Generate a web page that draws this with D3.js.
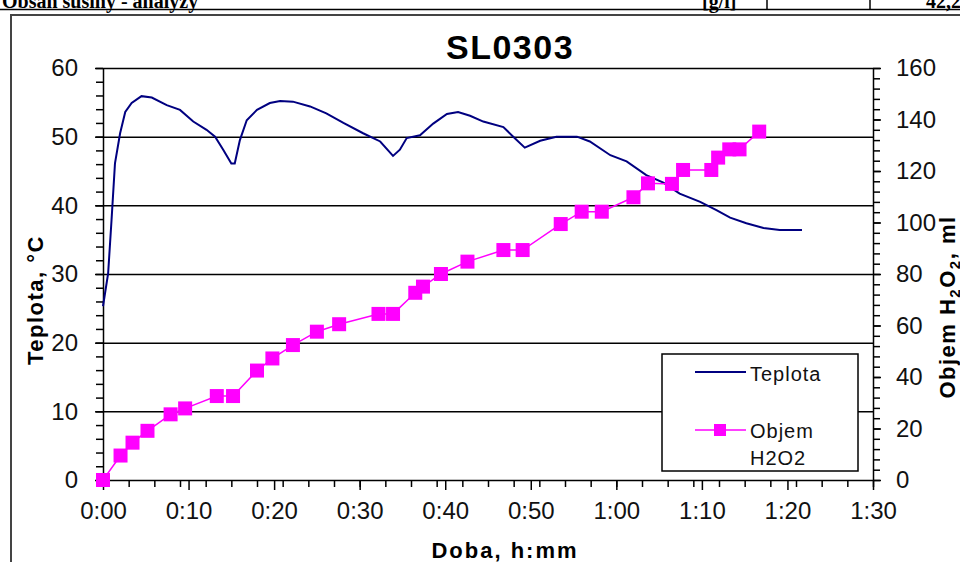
<!DOCTYPE html>
<html>
<head>
<meta charset="utf-8">
<script src="https://cdn.jsdelivr.net/npm/d3@7"></script>
<style>
  body { margin: 0; background: #fff; }
  svg { display: block; font-family: "Liberation Sans", Arial, sans-serif; }
</style>
</head>
<body>
<div id="chart"></div>
<script>
// time in minutes since start
const tempTime = [0, 0.6, 1.0, 1.4, 2.0, 2.6, 3.35, 4.5, 5.7, 7.45, 9.0, 10.55, 12.1, 13.1, 14.05, 15.0, 15.4, 16.0, 16.8, 18.0, 19.5, 20.7, 22.2, 24.2, 26.1, 28.1, 30.4, 32.4, 33.9, 34.7, 35.5, 37.05, 38.6, 40.2, 41.5, 42.9, 44.45, 46.8, 47.95, 49.3, 51.1, 53.0, 55.4, 56.9, 59.3, 61.2, 63.5, 65.5, 67.4, 69.8, 71.7, 73.3, 75.2, 77.2, 79.1, 81.7];
const tempValues = [25.3, 30.1, 37.9, 46.1, 50.5, 53.6, 54.9, 55.9, 55.7, 54.6, 53.9, 52.2, 51.0, 50.0, 48.1, 46.1, 46.1, 49.5, 52.4, 53.9, 54.9, 55.2, 55.1, 54.4, 53.4, 52.0, 50.5, 49.3, 47.2, 48.1, 49.8, 50.2, 51.9, 53.3, 53.6, 53.05, 52.2, 51.4, 50.0, 48.4, 49.4, 50.0, 50.0, 49.3, 47.3, 46.4, 44.4, 43.3, 41.7, 40.5, 39.3, 38.2, 37.4, 36.7, 36.4, 36.4];

const volTime = [0, 2.05, 3.45, 5.2, 7.9, 9.6, 13.3, 15.2, 18.0, 19.8, 22.2, 25.0, 27.6, 32.2, 33.9, 36.5, 37.4, 39.5, 42.6, 46.8, 49.05, 53.5, 55.95, 58.3, 62.0, 63.7, 66.5, 67.8, 71.1, 71.9, 73.2, 74.4, 76.7];
const volValues = [0, 9.5, 14.5, 19.1, 25.5, 27.8, 32.6, 32.6, 42.5, 47.2, 52.4, 57.6, 60.5, 64.5, 64.5, 72.7, 75.1, 80, 84.8, 89.3, 89.3, 99.4, 104.2, 104.2, 109.8, 115.2, 115.0, 120.4, 120.4, 125.2, 128.4, 128.4, 135.3];

const tempTicks = [0, 10, 20, 30, 40, 50, 60];
const volTicks = [0, 20, 40, 60, 80, 100, 120, 140, 160];
const timeTicks = [0, 10, 20, 30, 40, 50, 60, 70, 80, 90];

const chartTitle = 'SL0303';
const legendLabels = ['Teplota', 'Objem', 'H2O2'];

const W = 960, H = 562;
const margin = { left: 103, top: 68, right: W - 873, bottom: H - 480 };
const width = W - margin.left - margin.right;
const height = H - margin.top - margin.bottom;

const fmtTime = m => `${Math.floor(m / 60)}:${String(m % 60).padStart(2, '0')}`;

const svg = d3.select('#chart').append('svg')
    .attr('width', W)
    .attr('height', H);

// surrounding document: table row cut at top, frame of the chart object
const docText = (xv, txt) => svg.append('text')
    .attr('x', xv).attr('y', 8)
    .attr('font-family', '"Liberation Serif", serif')
    .attr('font-weight', 'bold')
    .attr('font-size', 20)
    .text(txt);
docText(2, 'Obsah sušiny - analýzy');
docText(702, '[g/l]');
docText(926, '42,2');
svg.append('line').attr('x1', 0).attr('x2', W).attr('y1', 9.5).attr('y2', 9.5)
    .attr('stroke', '#000').attr('stroke-width', 1.5);
[767, 870].forEach(xv => {
    svg.append('line').attr('x1', xv).attr('x2', xv).attr('y1', 0).attr('y2', 9)
        .attr('stroke', '#000').attr('stroke-width', 1.5);
});
svg.append('path')
    .attr('d', `M11,${H}V15H${W}`)
    .attr('fill', 'none')
    .attr('stroke', '#444')
    .attr('stroke-width', 2);

const g = svg.append('g')
    .attr('transform', `translate(${margin.left},${margin.top})`);

const x = d3.scaleLinear().domain([0, 90]).range([0, width]);
const yT = d3.scaleLinear().domain([0, 60]).range([height, 0]);
const yV = d3.scaleLinear().domain([0, 160]).range([height, 0]);

// Grid lines
g.append('g')
    .call(d3.axisLeft(yT).tickValues(tempTicks.slice(1)).tickSize(-width).tickFormat(''))
    .call(s => s.select('.domain').remove())
    .selectAll('line')
    .attr('stroke', '#000')
    .attr('stroke-width', 1.5);

// Minor ticks
g.append('g')
    .call(d3.axisLeft(yT).tickValues(d3.range(0, 61, 2)).tickSize(7).tickFormat(''))
    .call(s => s.select('.domain').remove())
    .selectAll('line').attr('stroke-width', 1.5);
g.append('g')
    .attr('transform', `translate(${width},0)`)
    .call(d3.axisRight(yV).tickValues(d3.range(0, 161, 4)).tickSize(7).tickFormat(''))
    .call(s => s.select('.domain').remove())
    .selectAll('line').attr('stroke-width', 1.5);
g.append('g')
    .attr('transform', `translate(0,${height})`)
    .call(d3.axisBottom(x).tickValues(d3.range(0, 91, 3)).tickSize(7).tickFormat(''))
    .call(s => s.select('.domain').remove())
    .selectAll('line').attr('stroke-width', 1.5);

// Major axes
const styleAxis = s => {
    s.select('.domain').attr('stroke-width', 1.5);
    s.selectAll('line').attr('stroke-width', 1.5);
    s.selectAll('text')
        .attr('font-family', '"Liberation Sans", Arial, sans-serif')
        .attr('font-size', 24)
        .attr('fill', '#111');
};

g.append('g')
    .call(d3.axisLeft(yT).tickValues(tempTicks).tickSize(8).tickPadding(17).tickSizeOuter(0))
    .call(styleAxis);

g.append('g')
    .attr('transform', `translate(${width},0)`)
    .call(d3.axisRight(yV).tickValues(volTicks).tickSize(8).tickPadding(15).tickSizeOuter(0))
    .call(styleAxis);

g.append('g')
    .attr('transform', `translate(0,${height})`)
    .call(d3.axisBottom(x).tickValues(timeTicks).tickSize(10).tickPadding(12).tickSizeOuter(0).tickFormat(fmtTime))
    .call(styleAxis);

// Temperature line
const tempData = tempTime.map((t, i) => ({ t, v: tempValues[i] }));
g.append('path')
    .datum(tempData)
    .attr('fill', 'none')
    .attr('stroke', '#000080')
    .attr('stroke-width', 2)
    .attr('d', d3.line().x(d => x(d.t)).y(d => yT(d.v)));

// Volume line + markers
const volData = volTime.map((t, i) => ({ t, v: volValues[i] }));
g.append('path')
    .datum(volData)
    .attr('fill', 'none')
    .attr('stroke', '#ff00ff')
    .attr('stroke-width', 1.5)
    .attr('d', d3.line().x(d => x(d.t)).y(d => yV(d.v)));

const ms = 14;
g.selectAll('.marker')
    .data(volData)
    .join('rect')
    .attr('class', 'marker')
    .attr('x', d => x(d.t) - ms / 2)
    .attr('y', d => yV(d.v) - ms / 2)
    .attr('width', ms)
    .attr('height', ms)
    .attr('fill', '#ff00ff');

// Titles
svg.append('text')
    .attr('x', 510).attr('y', 59)
    .attr('text-anchor', 'middle')
    .attr('font-family', '"Liberation Sans", Arial, sans-serif')
    .attr('font-weight', 'bold')
    .attr('font-size', 34)
    .attr('letter-spacing', 1.5)
    .text(chartTitle);

svg.append('text')
    .attr('x', 505).attr('y', 558)
    .attr('text-anchor', 'middle')
    .attr('font-weight', 'bold')
    .attr('font-size', 22)
    .attr('letter-spacing', 2)
    .text('Doba, h:mm');

svg.append('text')
    .attr('transform', 'translate(43,300) rotate(-90)')
    .attr('text-anchor', 'middle')
    .attr('font-weight', 'bold')
    .attr('font-size', 22)
    .attr('letter-spacing', 1.5)
    .text('Teplota, °C');

const rt = svg.append('text')
    .attr('transform', 'translate(955,307) rotate(-90)')
    .attr('text-anchor', 'middle')
    .attr('font-weight', 'bold')
    .attr('font-size', 22)
    .attr('letter-spacing', 1.5);
rt.append('tspan').text('Objem H');
rt.append('tspan').attr('font-size', 15).attr('dy', 5).text('2');
rt.append('tspan').attr('dy', -5).text('O');
rt.append('tspan').attr('font-size', 15).attr('dy', 5).text('2');
rt.append('tspan').attr('dy', -5).text(', ml');

// Legend
const legend = svg.append('g').attr('transform', 'translate(662,354)');
legend.append('rect')
    .attr('width', 196).attr('height', 117)
    .attr('fill', '#fff')
    .attr('stroke', '#000')
    .attr('stroke-width', 1.5);
legend.append('line')
    .attr('x1', 33).attr('x2', 84).attr('y1', 18).attr('y2', 18)
    .attr('stroke', '#000080').attr('stroke-width', 2);
legend.append('line')
    .attr('x1', 33).attr('x2', 84).attr('y1', 76).attr('y2', 76)
    .attr('stroke', '#ff00ff').attr('stroke-width', 1.5);
legend.append('rect')
    .attr('x', 52).attr('y', 70)
    .attr('width', 12).attr('height', 12)
    .attr('fill', '#ff00ff');
[[legendLabels[0], 27], [legendLabels[1], 84], [legendLabels[2], 111]].forEach(([txt, yy]) => {
    legend.append('text')
        .attr('x', 88).attr('y', yy)
        .attr('font-size', 20)
        .attr('letter-spacing', 1)
        .attr('fill', '#111')
        .text(txt);
});
</script>
</body>
</html>
